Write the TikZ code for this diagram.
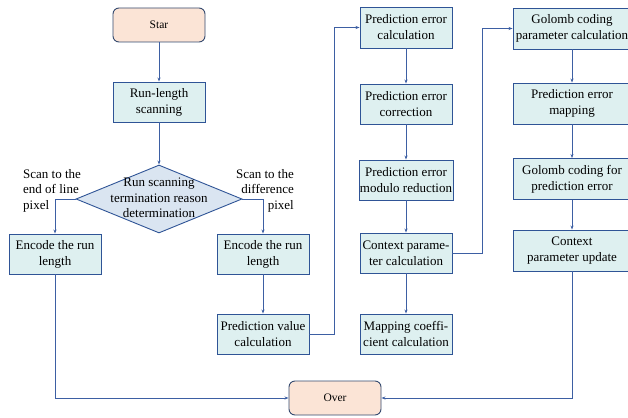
\documentclass[tikz,border=0pt]{standalone}
\usepackage{fontspec}
\setmainfont{Liberation Serif}
\usetikzlibrary{shapes.geometric,arrows.meta}
\definecolor{edgeblue}{HTML}{3D5FA3}
\definecolor{boxborder}{HTML}{2F5496}
\definecolor{termborder}{HTML}{34496E}
\definecolor{boxfill}{HTML}{DEF0F0}
\definecolor{termfill}{HTML}{FBE4D6}
\definecolor{decfill}{HTML}{DAE5F1}
\tikzset{
  procbox/.style={draw=boxborder, fill=boxfill, line width=0.9pt, minimum width=92pt,
    minimum height=40pt, inner sep=1pt, align=center, font=\fontsize{13}{16}\selectfont},
  widebox/.style={procbox, minimum width=118pt, minimum height=41pt},
  termbox/.style={draw=termborder, fill=termfill, line width=0.9pt, rounded corners=6pt,
    minimum width=92pt, minimum height=34pt, font=\fontsize{11.5}{13}\selectfont},
  decision/.style={diamond, draw=boxborder, fill=decfill, line width=0.9pt, inner sep=0pt,
    minimum width=166pt, minimum height=68pt},
  flow/.style={draw=edgeblue, line width=0.7pt, -{Stealth[length=4pt,width=3pt]}},
  sidelabel/.style={font=\fontsize{13}{15.5}\selectfont, inner sep=0pt}
}
\begin{document}
\begin{tikzpicture}[x=1pt,y=-1pt]
\useasboundingbox (0,0) rectangle (628,417);
\clip (0,0) rectangle (628,417);

% run-length branch
\node[termbox] (start) at (159,25) {Star};
\node[procbox] (scan) at (159,102) {Run-length\\scanning};
\node[decision] (dec) at (159,199) {};
\node[align=center, font=\fontsize{13}{15.5}\selectfont, inner sep=0pt] (dectext) at (159,198)
  {Run scanning\\termination reason\\determination};
\node[procbox] (encL) at (55,254) {Encode the run\\length};
\node[procbox] (encR) at (263,254) {Encode the run\\length};
\node[procbox] (pvc) at (263,334) {Prediction value\\calculation};

% prediction error column
\node[procbox, minimum height=41pt] (pec) at (406,27.5) {Prediction error\\calculation};
\node[procbox] (pecorr) at (406,104) {Prediction error\\correction};
\node[procbox] (pemod) at (406,180) {Prediction error\\modulo reduction};
\node[procbox] (cpc) at (406,253) {Context parame-\\ter calculation};
\node[procbox] (mcc) at (406,334) {Mapping coeffi-\\cient calculation};

% Golomb coding column
\node[widebox] (gcp) at (572,28.5) {Golomb coding\\parameter calculation};
\node[widebox] (pem) at (572,103.5) {Prediction error\\mapping};
\node[widebox] (gcf) at (572,179) {Golomb coding for\\prediction error};
\node[widebox] (cpu) at (572,250.5) {Context\\parameter update};

\node[termbox] (over) at (335,398) {Over};

% branch labels
\node[sidelabel, align=left, anchor=north west] (lblL) at (23,169) {Scan to the\\end of line\\pixel};
\node[sidelabel, align=right, anchor=north east] (lblR) at (294,169) {Scan to the\\difference\\pixel};

% junction points of the routed connectors
\coordinate (j1) at (334,27.5);
\coordinate (j2) at (482,28.5);

% connectors
\draw[flow] (start) -- (scan);
\draw[flow] (scan) -- (dec.north);
\draw[flow] (dec.west) -| (encL.north);
\draw[flow] (dec.east) -| (encR.north);
\draw[flow] (encR) -- (pvc);
\draw[flow] (encL.south) |- (over.west);
\draw[flow] (pvc.east) -| (j1) -- (pec.west);
\draw[flow] (pec) -- (pecorr);
\draw[flow] (pecorr) -- (pemod);
\draw[flow] (pemod) -- (cpc);
\draw[flow] (cpc) -- (mcc);
\draw[flow] (cpc.east) -| (j2) -- (gcp.west);
\draw[flow] (gcp) -- (pem);
\draw[flow] (pem) -- (gcf);
\draw[flow] (gcf) -- (cpu);
\draw[flow] (cpu.south) |- (over.east);
\end{tikzpicture}
\end{document}
